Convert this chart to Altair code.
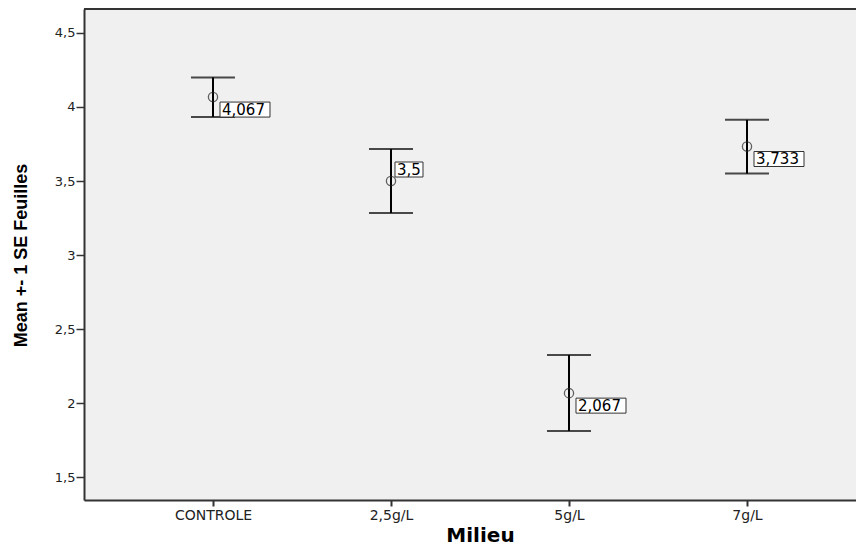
import altair as alt
import pandas as pd

categories = ["CONTROLE", "2,5g/L", "5g/L", "7g/L"]
means = [4.067, 3.5, 2.067, 3.733]
lower = [3.933, 3.284, 1.811, 3.550]
upper = [4.200, 3.716, 2.324, 3.913]
labels = ["4,067", "3,5", "2,067", "3,733"]
y_ticks = [1.5, 2.0, 2.5, 3.0, 3.5, 4.0, 4.5]

df = pd.DataFrame({"milieu": categories, "mean": means, "lower": lower,
                   "upper": upper, "label": labels})

FONT = "DejaVu Sans"
W, H = 772, 491

xenc = alt.X("milieu:N", sort=categories,
             scale=alt.Scale(type="point", padding=0.6685, align=0.542),
             axis=alt.Axis(title="Milieu", labelAngle=0, labelFont=FONT, labelFontSize=14,
                           labelColor="#222", tickSize=6, tickWidth=2, tickColor="#333",
                           domainColor="#333", domainWidth=2, labelPadding=2,
                           titleFont=FONT, titleFontSize=20, titleFontWeight="bold",
                           titleColor="black", titleX=396, titleY=41, titleAlign="center",
                           titleBaseline="alphabetic"))
yscale = alt.Scale(domain=[1.345, 4.662], nice=False, zero=False)
yenc = alt.Y("mean:Q", scale=yscale,
             axis=alt.Axis(title="Mean +- 1 SE Feuilles", values=y_ticks,
                           labelExpr="replace(toString(datum.value), '.', ',')",
                           labelFont=FONT, labelFontSize=13, labelColor="#222",
                           tickSize=8, tickWidth=1.5, tickColor="#333", labelPadding=1,
                           domainColor="#333", domainWidth=2, grid=False,
                           titleFont="Liberation Sans", titleFontSize=18,
                           titleFontWeight="bold", titleColor="black",
                           titleAngle=-90, titleX=-63, titleY=246, titleAlign="center",
                           titleBaseline="middle"))

base = alt.Chart(df)

bars = base.mark_rule(color="black", strokeWidth=2).encode(
    x=xenc, y=alt.Y("lower:Q", scale=yscale), y2="upper:Q")
cap_top = base.mark_tick(color="black", size=44, thickness=2).encode(
    x=xenc, y=alt.Y("upper:Q", scale=yscale))
cap_bot = base.mark_tick(color="black", size=44, thickness=2).encode(
    x=xenc, y=alt.Y("lower:Q", scale=yscale))
pts = base.mark_point(shape="circle", filled=False, size=85, color="#222",
                      strokeWidth=1.3).encode(x=xenc, y=yenc)

below = alt.datum.milieu != "2,5g/L"
above = alt.datum.milieu == "2,5g/L"

box_below = base.transform_filter(below).mark_rect(
    fill="white", stroke="#333", strokeWidth=1,
    xOffset=7, x2Offset=57, yOffset=5, y2Offset=20).encode(
    x=xenc, x2="milieu:N", y=alt.Y("mean:Q", scale=yscale), y2="mean:Q")
box_above = base.transform_filter(above).mark_rect(
    fill="white", stroke="#333", strokeWidth=1,
    xOffset=4, x2Offset=32, yOffset=-19, y2Offset=-4).encode(
    x=xenc, x2="milieu:N", y=alt.Y("mean:Q", scale=yscale), y2="mean:Q")

txt_below = base.transform_filter(below).mark_text(
    align="left", baseline="middle", dx=9, dy=12.5, font=FONT, fontSize=15,
    color="black").encode(x=xenc, y=alt.Y("mean:Q", scale=yscale), text="label:N")
txt_above = base.transform_filter(above).mark_text(
    align="left", baseline="middle", dx=6, dy=-11.5, font=FONT, fontSize=15,
    color="black").encode(x=xenc, y=alt.Y("mean:Q", scale=yscale), text="label:N")

top_line = alt.Chart(df).mark_rule(color="#333", strokeWidth=2).encode(
    x=alt.value(0), x2=alt.value(W), y=alt.value(0))

chart = alt.layer(bars, cap_top, cap_bot, box_below, box_above, pts,
                  txt_below, txt_above, top_line).properties(
    width=W, height=H,
    autosize=alt.AutoSizeParams(type="none"),
    padding={"left": 76, "top": 1, "right": 0, "bottom": 46},
    background="white",
).configure_view(fill="#F0F0F0", stroke="transparent")

chart.save("out.html", embed_options={"renderer": "svg", "actions": False})
